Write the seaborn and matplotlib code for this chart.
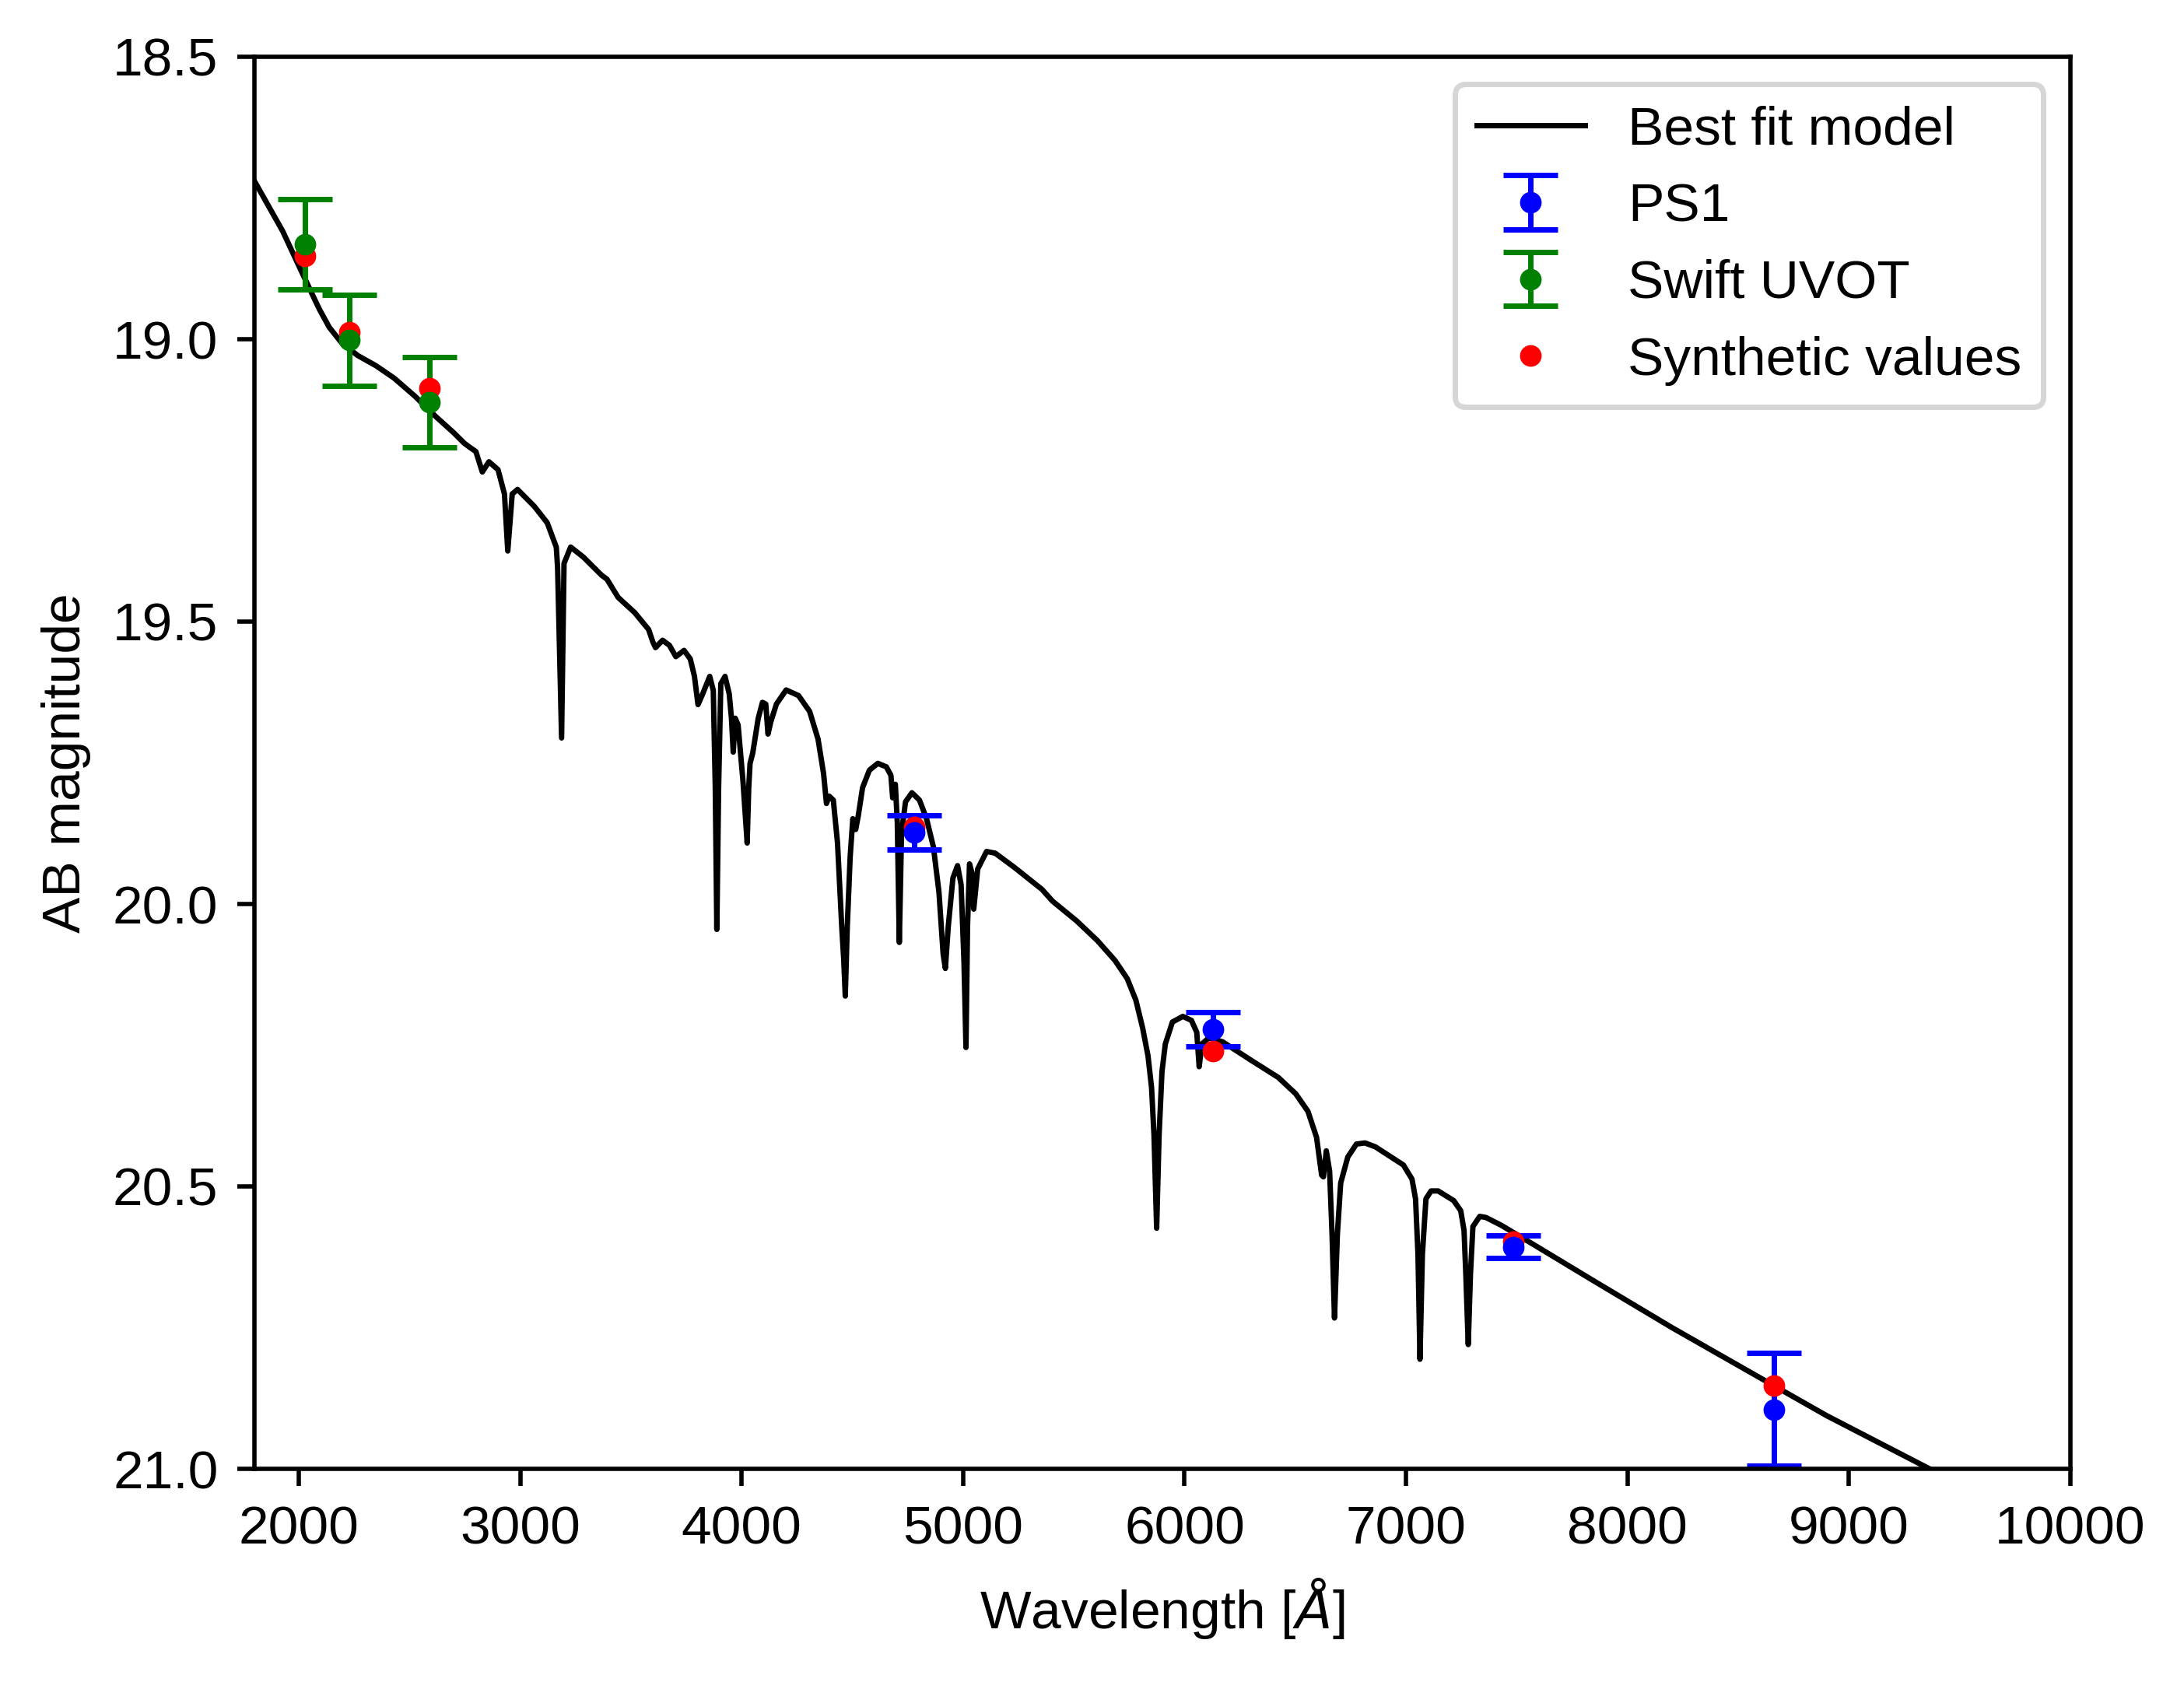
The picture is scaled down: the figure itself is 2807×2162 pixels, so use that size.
import numpy as np
import pandas as pd
import matplotlib
matplotlib.use("Agg")
import matplotlib.pyplot as plt
import seaborn as sns

# ---------------- data ----------------
model_wl = [1800, 1928, 2010, 2092, 2138, 2197, 2267, 2349, 2431, 2525, 2619, 2701, 2747, 2771,
            2800, 2829, 2859, 2900, 2929, 2944, 2964, 2988, 3064, 3122, 3163, 3169, 3187, 3198,
            3228, 3286, 3368, 3392, 3442, 3517, 3580, 3599, 3611, 3643, 3674, 3703, 3740, 3768,
            3787, 3803, 3824, 3856, 3872, 3881, 3888, 3896, 3906, 3925, 3944, 3954, 3962, 3971,
            3984, 4006, 4019, 4025, 4032, 4038, 4050, 4075, 4094, 4109, 4119, 4132, 4157, 4201,
            4257, 4307, 4345, 4370, 4383, 4395, 4414, 4433, 4452, 4461, 4468, 4477, 4490, 4502,
            4515, 4527, 4546, 4577, 4615, 4653, 4674, 4682, 4694, 4703, 4712, 4722, 4740, 4769,
            4803, 4835, 4866, 4891, 4910, 4920, 4933, 4954, 4975, 4991, 5004, 5013, 5020, 5029,
            5042, 5048, 5066, 5106, 5145, 5231, 5356, 5404, 5513, 5607, 5686, 5741, 5780, 5811,
            5835, 5851, 5862, 5874, 5885, 5898, 5913, 5945, 5992, 6031, 6055, 6066, 6078, 6109,
            6172, 6298, 6423, 6502, 6557, 6596, 6619, 6627, 6640, 6655, 6666, 6677, 6690, 6705,
            6737, 6776, 6815, 6862, 6917, 6988, 7027, 7043, 7054, 7063, 7074, 7090, 7113, 7145,
            7215, 7247, 7262, 7270, 7281, 7291, 7302, 7333, 7361, 7431, 7589, 7851, 8201, 8550,
            8900, 9162, 9354, 10000]
model_mag = [18.720, 18.809, 18.878, 18.946, 18.979, 19.008, 19.029, 19.047, 19.069, 19.101, 19.137,
             19.166, 19.184, 19.191, 19.199, 19.235, 19.217, 19.231, 19.274, 19.375, 19.274, 19.266,
             19.296, 19.325, 19.368, 19.404, 19.706, 19.397, 19.368, 19.386, 19.418, 19.425, 19.457,
             19.484, 19.514, 19.536, 19.546, 19.533, 19.542, 19.562, 19.551, 19.566, 19.597, 19.647,
             19.628, 19.597, 19.622, 19.794, 20.045, 19.794, 19.610, 19.597, 19.628, 19.671, 19.731,
             19.671, 19.683, 19.782, 19.856, 19.892, 19.794, 19.751, 19.733, 19.671, 19.643, 19.646,
             19.699, 19.677, 19.646, 19.621, 19.631, 19.659, 19.708, 19.769, 19.822, 19.809, 19.816,
             19.892, 20.040, 20.098, 20.163, 20.040, 19.917, 19.849, 19.868, 19.843, 19.794, 19.763,
             19.751, 19.757, 19.772, 19.812, 19.788, 19.856, 20.068, 19.874, 19.819, 19.803, 19.816,
             19.849, 19.899, 19.979, 20.089, 20.114, 20.040, 19.954, 19.932, 19.966, 20.102, 20.254,
             20.040, 19.929, 19.948, 20.009, 19.938, 19.907, 19.910, 19.935, 19.974, 19.995, 20.030,
             20.065, 20.100, 20.132, 20.170, 20.220, 20.269, 20.325, 20.409, 20.574, 20.409, 20.297,
             20.248, 20.209, 20.199, 20.206, 20.227, 20.288, 20.248, 20.237, 20.244, 20.276, 20.307,
             20.336, 20.367, 20.413, 20.480, 20.483, 20.437, 20.473, 20.585, 20.733, 20.585, 20.494,
             20.448, 20.425, 20.423, 20.430, 20.444, 20.462, 20.487, 20.522, 20.620, 20.806, 20.620,
             20.522, 20.508, 20.508, 20.525, 20.543, 20.578, 20.655, 20.780, 20.655, 20.571, 20.553,
             20.555, 20.569, 20.606, 20.668, 20.750, 20.828, 20.906, 20.959, 20.998, 21.130]

ps1_wl = [4778, 6130, 7486, 8660]
ps1_mag = [19.873, 20.222, 20.607, 20.895]
ps1_err = [0.03, 0.03, 0.02, 0.10]

swift_wl = [2028, 2228, 2590]
swift_mag = [18.832, 19.002, 19.112]
swift_err = [0.08, 0.08, 0.08]

synth_wl = [2028, 2228, 2590, 4778, 6130, 7486, 8660]
synth_mag = [18.853, 18.987, 19.087, 19.863, 20.260, 20.598, 20.853]

x_ticks = [2000, 3000, 4000, 5000, 6000, 7000, 8000, 9000, 10000]
y_ticks = [18.5, 19.0, 19.5, 20.0, 20.5, 21.0]

# ---------------- plotting ----------------
plt.rcParams["font.family"] = ["Liberation Sans", "DejaVu Sans"]
plt.rcParams["font.size"] = 10
plt.rcParams["xtick.major.size"] = 3.2
plt.rcParams["ytick.major.size"] = 3.2

DPI = 500
fig = plt.figure(figsize=(2807 / DPI, 2162 / DPI), dpi=DPI)
ax = fig.add_axes([327 / 2807, 274 / 2162, 2334 / 2807, 1815 / 2162])

model = pd.DataFrame({"wl": model_wl, "mag": model_mag})
sns.lineplot(data=model, x="wl", y="mag", ax=ax, color="black", lw=1.0,
             sort=False, estimator=None)
h_model = ax.lines[-1]

h_ps1 = ax.errorbar(ps1_wl, ps1_mag, yerr=ps1_err, fmt="o", color="blue", ms=3.0, mew=1.0,
                    elinewidth=1.0, capsize=5, capthick=1.0)
h_swift = ax.errorbar(swift_wl, swift_mag, yerr=swift_err, fmt="o", color="green", ms=3.0,
                      mew=1.0, elinewidth=1.0, capsize=5, capthick=1.0)

synth = pd.DataFrame({"wl": synth_wl, "mag": synth_mag})
h_synth, = ax.plot(synth["wl"], synth["mag"], "o", color="red", ms=3.0, mew=1.0)

ax.set_xlim(1800, 10000)
ax.set_ylim(21.0, 18.5)
ax.set_xticks(x_ticks)
ax.set_yticks(y_ticks)
ax.set_xlabel(r"Wavelength [$\AA$]")
ax.set_ylabel("AB magnitude")
ax.legend([h_model, h_ps1, h_swift, h_synth],
          ["Best fit model", "PS1", "Swift UVOT", "Synthetic values"],
          loc="upper right")

fig.savefig("out.png", dpi=DPI)
